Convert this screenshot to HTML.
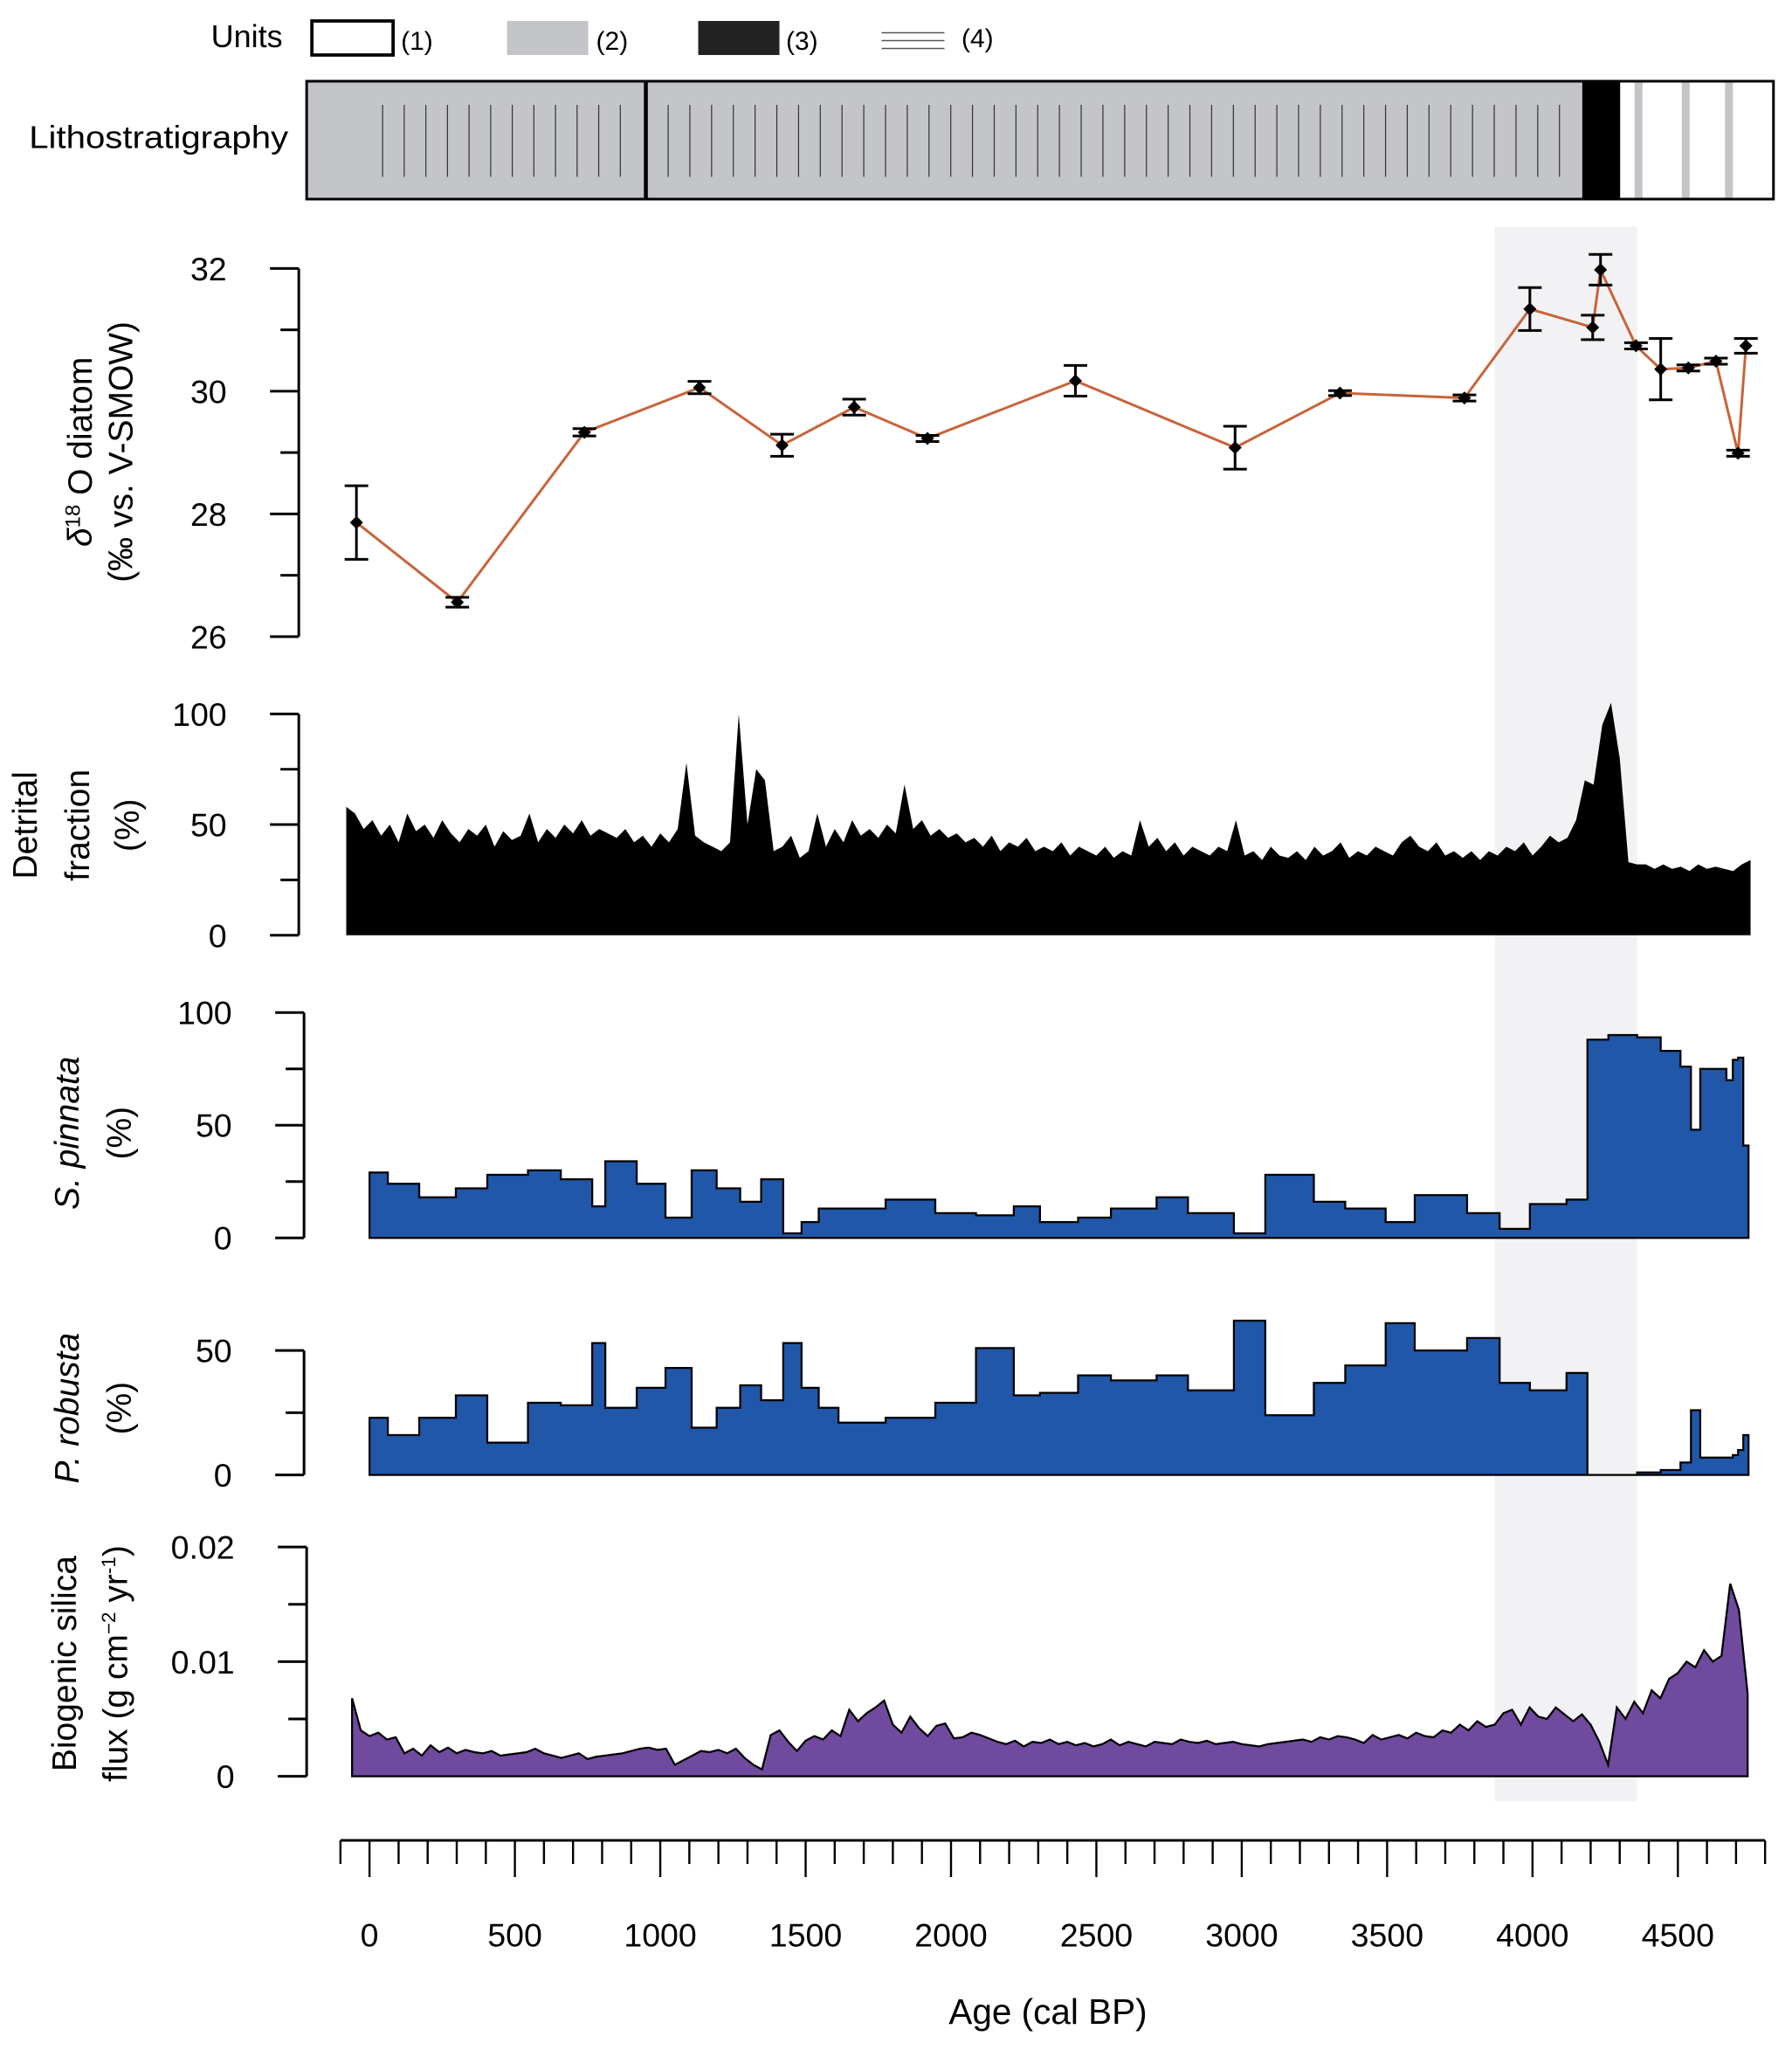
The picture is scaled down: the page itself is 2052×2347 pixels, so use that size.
<!DOCTYPE html>
<html><head><meta charset="utf-8"><style>
html,body{margin:0;padding:0;background:#fff}
svg{display:block;font-family:"Liberation Sans",sans-serif}
</style></head><body>
<svg id="chart" width="2052" height="2347" viewBox="0 0 1368 1565" xmlns="http://www.w3.org/2000/svg">
<g id="legend">
<text x="161" y="36" font-size="24">Units</text>
<rect x="238" y="16" width="62" height="26" fill="#fff" stroke="#000" stroke-width="2.5"/>
<text x="306" y="38" font-size="20">(1)</text>
<rect x="387" y="16" width="62" height="26" fill="#c4c5c8"/>
<text x="455" y="38" font-size="20">(2)</text>
<rect x="533" y="16" width="62" height="26" fill="#222"/>
<text x="600" y="38" font-size="20">(3)</text>
<g stroke="#555" stroke-width="1"><line x1="673" y1="25" x2="721" y2="25"/><line x1="673" y1="31" x2="721" y2="31"/><line x1="673" y1="37" x2="721" y2="37"/></g>
<text x="734" y="36" font-size="20">(4)</text>
</g>
<text x="22" y="113" font-size="24" textLength="198" lengthAdjust="spacingAndGlyphs">Lithostratigraphy</text>
<g id="litho"></g>
<rect id="shade" fill="#f2f2f4"/>
<g id="plots"></g>
</svg>
<script>
// ---- data ----
const d18Age=[-45,302,739,1135,1419,1667,1919,2428,2977,3338,3766,3991,4207,4234,4356,4441,4536,4631,4707,4734];
const d18Val=[27.86,26.56,29.33,30.06,29.12,29.74,29.23,30.17,29.08,29.97,29.89,31.34,31.04,31.98,30.74,30.36,30.38,30.49,28.99,30.74];
const d18Err=[0.6,0.08,0.06,0.1,0.18,0.13,0.05,0.25,0.35,0.04,0.05,0.35,0.2,0.25,0.05,0.5,0.05,0.05,0.05,0.12];
const detStart=-80, detStep=30;
const detVal=[58,55,48,52,45,50,42,55,47,50,44,52,46,42,48,45,50,40,47,43,45,55,42,48,44,50,46,52,45,48,46,44,48,42,45,40,46,42,48,78,
45,42,40,38,42,100,50,75,70,38,40,45,35,38,55,40,48,42,52,45,48,44,50,46,68,48,52,45,48,44,46,42,44,40,45,38,42,40,44,38,
40,38,42,36,40,38,36,40,35,38,36,52,40,44,38,42,36,40,38,36,40,38,52,36,38,34,40,36,35,38,34,40,36,38,42,35,38,36,40,38,
36,42,45,40,38,42,36,38,35,38,34,38,36,40,38,42,36,40,45,42,44,52,70,68,95,105,80,33,32,32,30,32,30,31,29,32,30,31,30,29,32,34];
const stepEdges=[0,63,171,297,405,545,658,766,811,919,1018,1108,1194,1275,1347,1423,1486,1545,1613,1775,1946,2086,2216,2306,2437,2550,2707,2815,2973,3081,3248,3356,3495,3595,3775,3887,3991,4117,4189,4261,4360,4441,4509,4545,4577,4667,4689,4707,4725,4743];
const pinnata=[29,24,18,22,28,30,26,14,34,24,9,30,22,16,26,2,7,13,13,17,11,10,14,7,9,13,18,11,2,28,16,13,7,19,11,4,15,17,88,90,89,83,76,48,75,70,79,80,41];
const robusta=[23,16,23,32,13,29,28,53,27,35,43,19,27,36,30,53,35,27,21,23,29,51,32,33,40,38,40,34,62,24,37,44,61,50,55,37,34,41,0,0,1,2,5,26,7,7,8,10,16];
const bsiStart=-60, bsiStep=30;
const bsiE3=[6.8,4.0,3.5,3.8,3.2,3.4,2.0,2.4,1.8,2.7,2.1,2.5,2.0,2.3,2.1,2.0,2.2,1.8,1.9,2.0,2.1,2.4,2.0,1.8,1.6,1.8,2.0,1.5,1.7,1.8,
1.9,2.0,2.2,2.4,2.5,2.3,2.4,1.0,1.4,1.8,2.2,2.1,2.3,2.0,2.4,1.6,1.0,0.6,3.6,4.0,3.0,2.2,3.1,3.5,3.2,4.0,3.5,5.8,4.8,5.5,
6.0,6.6,4.5,3.8,5.2,4.2,3.5,4.4,4.6,3.3,3.4,3.8,3.6,3.3,3.0,2.8,3.1,2.6,3.0,2.9,3.2,2.8,3.0,2.7,2.9,2.6,2.8,3.2,2.7,3.0,
2.8,2.6,3.0,2.9,2.8,3.2,3.0,2.9,3.1,2.8,2.9,3.0,2.8,2.7,2.6,2.8,2.9,3.0,3.1,3.2,3.0,3.4,3.2,3.5,3.4,3.2,2.9,3.6,3.2,3.4,
3.6,3.3,3.8,3.5,3.4,4.0,3.8,4.5,4.0,4.8,4.3,4.5,5.5,5.8,4.5,6.0,5.2,5.0,6.0,5.4,4.8,5.4,4.5,3.0,1.0,6.0,5.0,6.5,5.5,7.5,
6.8,8.5,9.0,10.0,9.5,11.0,10.0,10.5,16.8,14.5,7.2];
const xTickLabels=[0,500,1000,1500,2000,2500,3000,3500,4000,4500];
const shadeRange=[3870,4360];

// ---- helpers ----
const NS='http://www.w3.org/2000/svg';
const X=a=>282+a*0.222;
function mk(tag,attrs,parent){const e=document.createElementNS(NS,tag);for(const k in attrs)e.setAttribute(k,attrs[k]);(parent||document.getElementById('plots')).appendChild(e);return e;}

const sh=document.getElementById('shade');
sh.setAttribute('x',X(shadeRange[0]));sh.setAttribute('width',X(shadeRange[1])-X(shadeRange[0]));
sh.setAttribute('y',173);sh.setAttribute('height',1202);

const L=document.getElementById('litho');
mk('rect',{x:234,y:62,width:974,height:90,fill:'#c4c5c8'},L);
mk('rect',{x:1208,y:62,width:29,height:90,fill:'#000'},L);
mk('rect',{x:1237,y:62,width:117,height:90,fill:'#fff'},L);
[1251,1287,1320].forEach(x=>mk('rect',{x:x-3,y:62,width:6,height:90,fill:'#c4c5c8'},L));
for(let x=292;x<485;x+=16.5)mk('line',{x1:x,y1:80,x2:x,y2:135,stroke:'#333','stroke-width':0.8},L);
for(let x=510;x<1195;x+=16.6)mk('line',{x1:x,y1:80,x2:x,y2:135,stroke:'#333','stroke-width':0.8},L);
mk('line',{x1:493,y1:62,x2:493,y2:152,stroke:'#000','stroke-width':3},L);
mk('rect',{x:234,y:62,width:1120,height:90,fill:'none',stroke:'#000','stroke-width':2},L);

function yAxis(name,x,y0,y1,v0,v1,ticks,labels,minor){
  const g=mk('g',{});
  
  
  const Y=v=>y0+(v-v0)/(v1-v0)*(y1-y0);
  mk('line',{x1:x,y1:Y(v0),x2:x,y2:Y(v1),stroke:'#000','stroke-width':2},g);
  minor.forEach(v=>mk('line',{x1:x-14,y1:Y(v),x2:x,y2:Y(v),stroke:'#000','stroke-width':2},g));
  ticks.forEach((v,i)=>{
    mk('line',{x1:x-22,y1:Y(v),x2:x,y2:Y(v),stroke:'#000','stroke-width':2},g);
    const t=mk('text',{x:x-55,y:Y(v)+9,'font-size':25,'text-anchor':'end'},g);t.textContent=labels[i];
  });
  return Y;
}
function ylabel(lines,cx,cy){
  lines.forEach((l,i)=>{const t=mk('text',{x:0,y:0,'font-size':26,'text-anchor':'middle',transform:`translate(${cx[i]},${cy}) rotate(-90)`});t.innerHTML=l;});
}

const Yd=yAxis('d18o-y-axis',228,486,205,26,32,[26,28,30,32],['26','28','30','32'],[27,29,31]);
ylabel(['<tspan font-style="italic">δ</tspan><tspan font-size="16" dy="-9">18</tspan><tspan dy="9"> O diatom</tspan>','(‰ vs. V-SMOW)'],[70,101],345);
let pts=d18Age.map((a,i)=>X(a)+','+Yd(d18Val[i])).join(' ');
const ln=mk('polyline',{points:pts,fill:'none',stroke:'#c8643a','stroke-width':2});


d18Age.forEach((a,i)=>{
  const x=X(a),y=Yd(d18Val[i]),t=Yd(d18Val[i]+d18Err[i]),b=Yd(d18Val[i]-d18Err[i]);
  const g=mk('g',{stroke:'#000','stroke-width':2});
  
  
  mk('line',{x1:x,y1:t,x2:x,y2:b},g);mk('line',{x1:x-9,y1:t,x2:x+9,y2:t},g);mk('line',{x1:x-9,y1:b,x2:x+9,y2:b},g);
  mk('polygon',{points:`${x},${y-5} ${x+5},${y} ${x},${y+5} ${x-5},${y}`,fill:'#000',stroke:'none'},g);
});

const Yt=yAxis('detrital-y-axis',228,714,545,0,100,[0,50,100],['0','50','100'],[25,75]);
ylabel(['Detrital','fraction','(%)'],[28,68,106],630);
{let p=`${X(detStart)},${Yt(0)} `;detVal.forEach((v,i)=>p+=`${X(detStart+i*detStep)},${Yt(v)} `);p+=`${X(detStart+(detVal.length-1)*detStep)},${Yt(0)}`;
const a=mk('polygon',{points:p,fill:'#000'});}

function stepArea(name,vals,Y,fill){
  let p=`${X(stepEdges[0])},${Y(0)} `;
  vals.forEach((v,i)=>{p+=`${X(stepEdges[i])},${Y(v)} ${X(stepEdges[i+1])},${Y(v)} `;});
  p+=`${X(stepEdges[vals.length])},${Y(0)}`;
  const a=mk('polygon',{points:p,fill:fill,stroke:'#000','stroke-width':1.5});
  
}
const Ys=yAxis('pinnata-y-axis',232,945,773,0,100,[0,50,100],['0','50','100'],[25,75]);
ylabel(['<tspan font-style="italic">S. pinnata</tspan>','(%)'],[60,100],865);
stepArea('pinnata-area',pinnata,Ys,'#2057a8');

const Yr=yAxis('robusta-y-axis',232,1126,1031,0,50,[0,50],['0','50'],[25]);
ylabel(['<tspan font-style="italic">P. robusta</tspan>','(%)'],[60,100],1075);
stepArea('robusta-area',robusta,Yr,'#2057a8');

const Yb=yAxis('bsi-y-axis',234,1356,1181,0,20,[0,10,20],['0','0.01','0.02'],[5,15]);
ylabel(['Biogenic silica','flux (g cm<tspan font-size="15" dy="-9">−2</tspan><tspan dy="9"> yr</tspan><tspan font-size="15" dy="-9">-1</tspan><tspan dy="9">)</tspan>'],[58,97],1270);
{let p=`${X(bsiStart)},${Yb(0)} `;bsiE3.forEach((v,i)=>p+=`${X(bsiStart+i*bsiStep)},${Yb(v)} `);p+=`${X(bsiStart+(bsiE3.length-1)*bsiStep)},${Yb(0)}`;
const a=mk('polygon',{points:p,fill:'#6f4a9e',stroke:'#000','stroke-width':1.5});}

const gx=mk('g',{stroke:'#000','stroke-width':2});


mk('line',{x1:X(-100),y1:1405,x2:X(4800),y2:1405},gx);
for(let a=-100;a<=4800;a+=100){const major=a%500===0;mk('line',{x1:X(a),y1:1405,x2:X(a),y2:major?1433:1423,'stroke-width':1.6},gx);}
xTickLabels.forEach(v=>{const t=mk('text',{x:X(v),y:1486,'font-size':25,'text-anchor':'middle'});t.textContent=v;});
const xt=mk('text',{x:800,y:1545,'font-size':27,'text-anchor':'middle'});xt.textContent='Age (cal BP)';

</script>
</body></html>
